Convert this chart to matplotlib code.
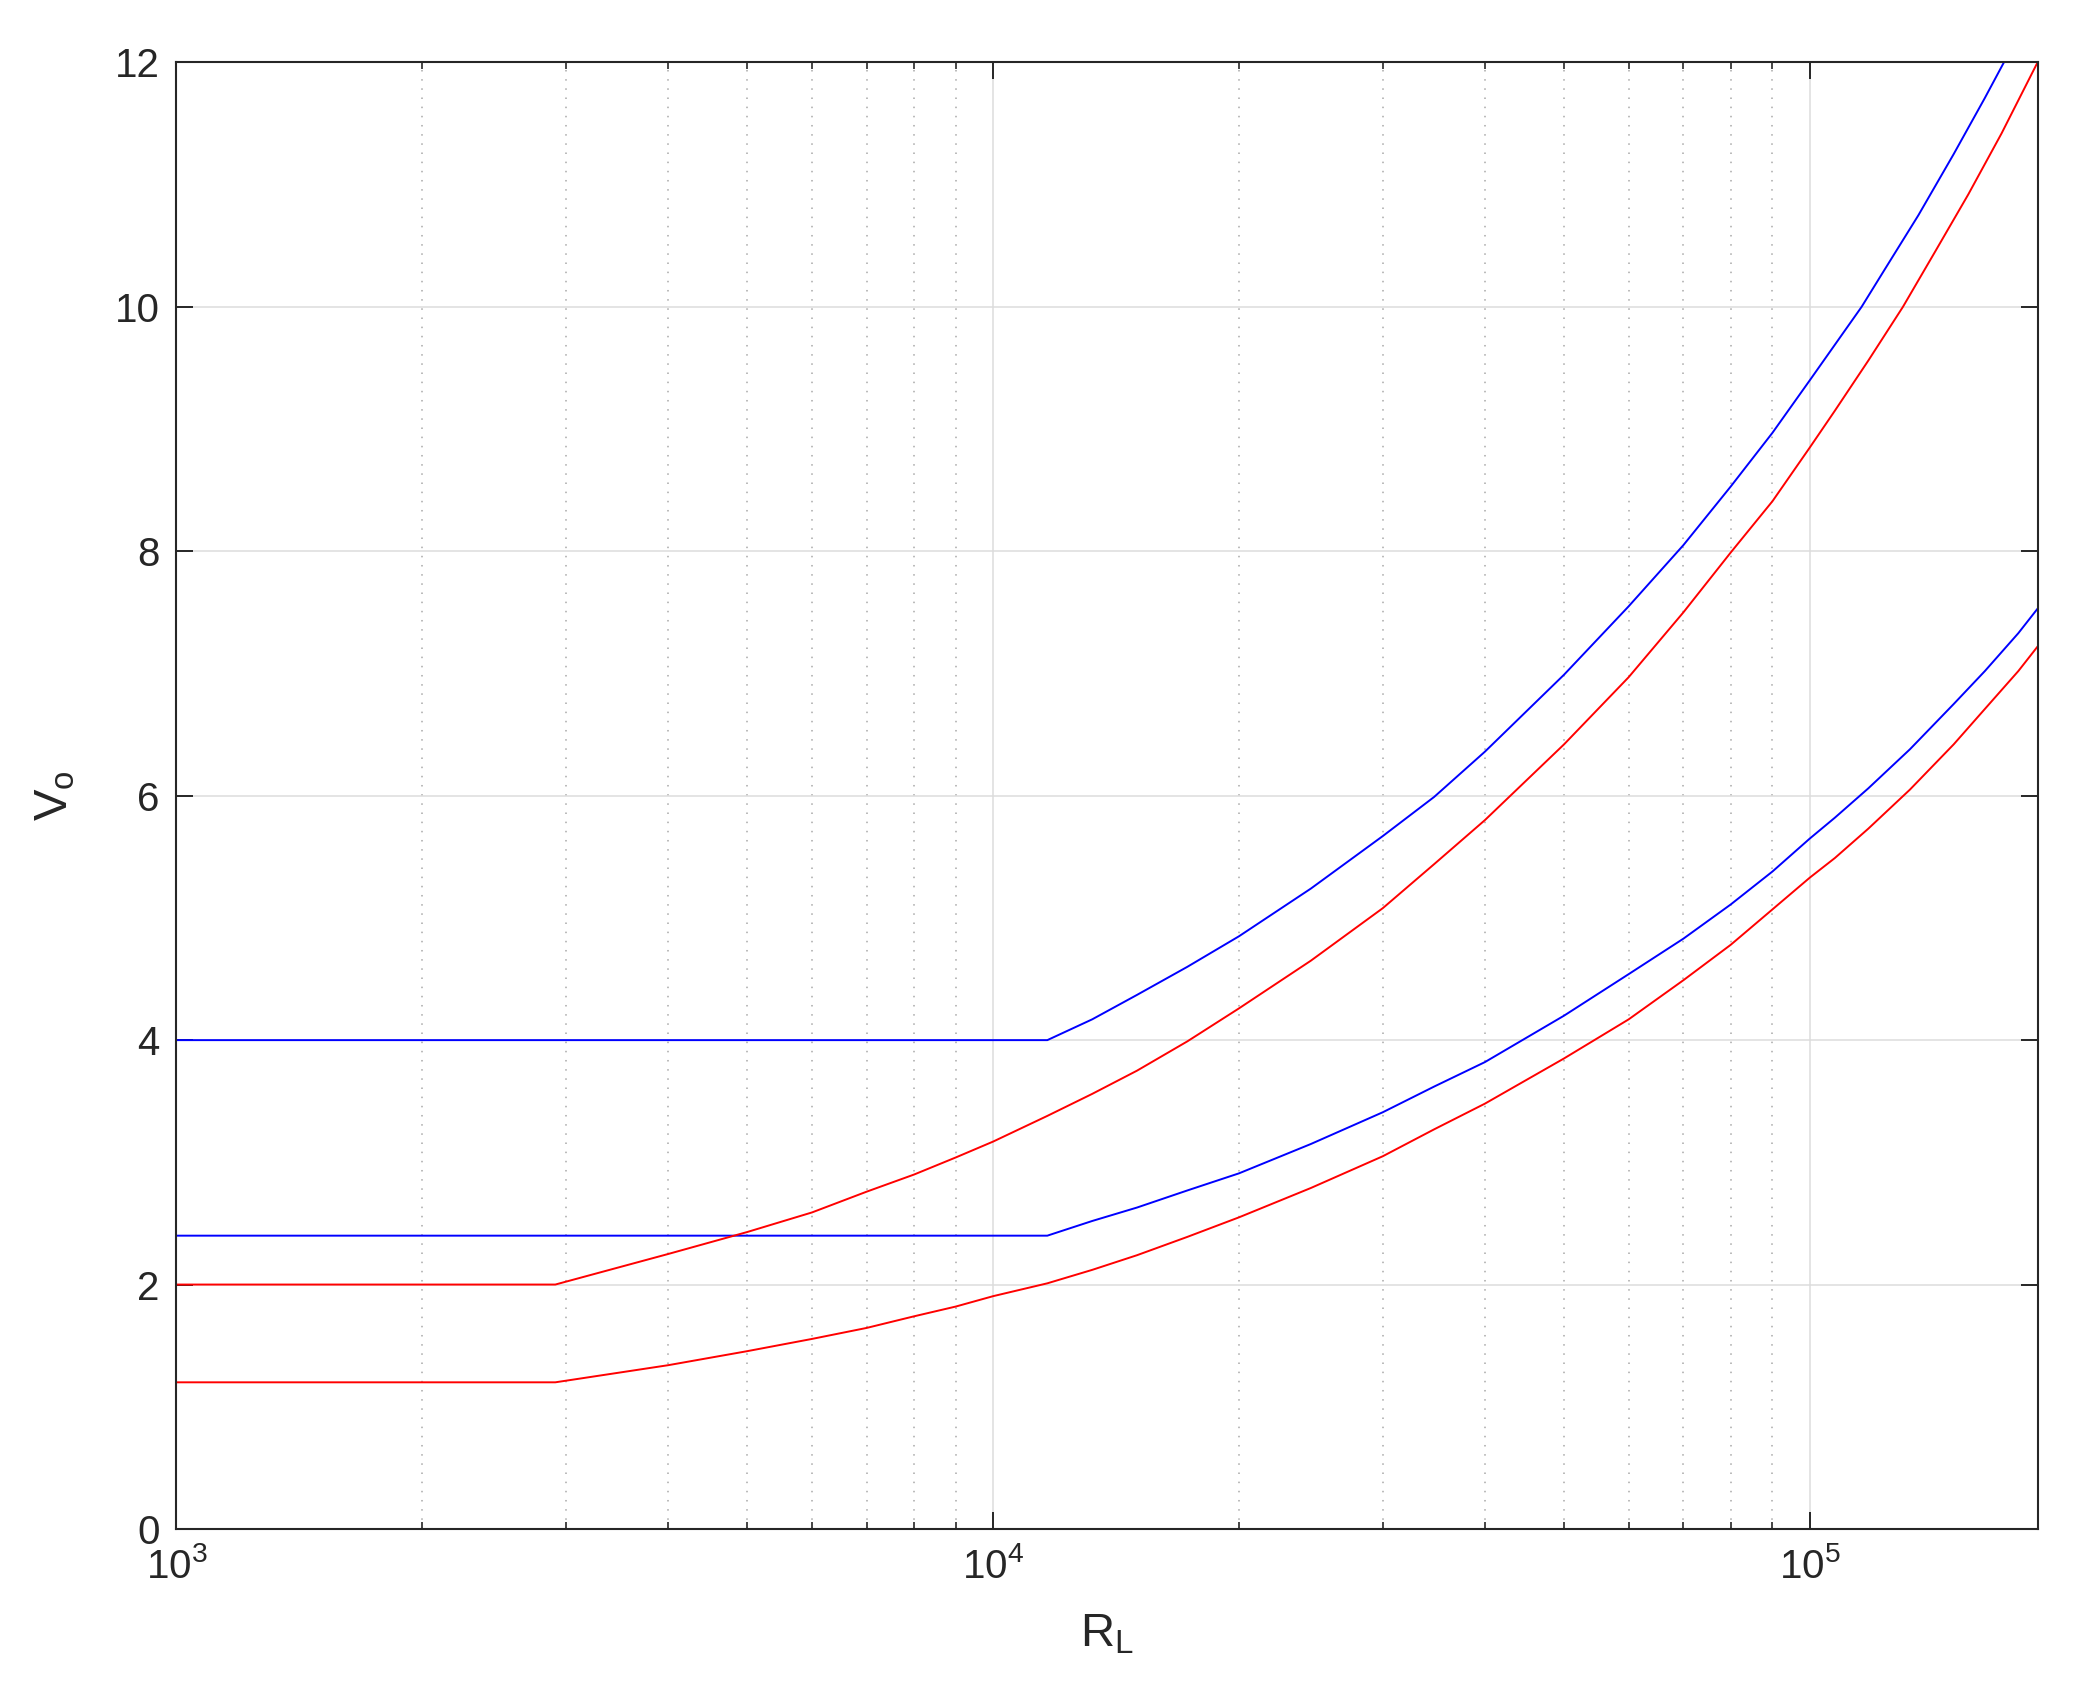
import matplotlib
matplotlib.use("Agg")
import matplotlib.pyplot as plt
from matplotlib.ticker import FixedLocator, LogLocator, NullLocator

# values, one pair of lists per curve
rl_blue_hi = [1e3, 1.165e4, 1.322e4, 1.5e4, 1.729e4, 2e4, 2.449e4, 3e4,
              3.467e4, 4e4, 5e4, 6e4, 7e4, 8e4, 9e4, 1e5, 1.073e5, 1.157e5,
              1.236e5, 1.358e5, 1.5e5, 1.638e5, 1.728e5]
vo_blue_hi = [4.0, 4.0, 4.17, 4.37, 4.60, 4.85, 5.24, 5.67,
              5.99, 6.36, 6.99, 7.55, 8.05, 8.53, 8.97, 9.40, 9.69, 10.0,
              10.31, 10.75, 11.25, 11.71, 12.0]

rl_blue_lo = [1e3, 1.165e4, 1.322e4, 1.5e4, 1.729e4, 2e4, 2.449e4, 3e4,
              3.467e4, 4e4, 5e4, 6e4, 7e4, 8e4, 9e4, 1e5, 1.073e5, 1.179e5,
              1.326e5, 1.5e5, 1.638e5, 1.8e5, 1.9e5]
vo_blue_lo = [2.4, 2.4, 2.52, 2.63, 2.77, 2.91, 3.15, 3.41,
              3.62, 3.82, 4.20, 4.54, 4.83, 5.11, 5.38, 5.65, 5.82, 6.06,
              6.38, 6.75, 7.02, 7.33, 7.53]

rl_red_hi = [1e3, 2.91e3, 4e3, 5e3, 6e3, 7e3, 8e3, 9e3, 1e4, 1.165e4,
             1.322e4, 1.5e4, 1.729e4, 2e4, 2.449e4, 3e4, 3.467e4, 4e4, 5e4,
             6e4, 7e4, 8e4, 9e4, 1e5, 1.073e5, 1.179e5, 1.3e5, 1.423e5,
             1.563e5, 1.717e5, 1.9e5]
vo_red_hi = [2.0, 2.0, 2.25, 2.43, 2.59, 2.76, 2.90, 3.04, 3.17, 3.38,
             3.56, 3.75, 3.99, 4.26, 4.65, 5.08, 5.44, 5.80, 6.42,
             6.97, 7.50, 7.99, 8.41, 8.85, 9.15, 9.56, 10.0, 10.45,
             10.92, 11.42, 12.0]

rl_red_lo = [1e3, 2.91e3, 4e3, 5e3, 6e3, 7e3, 8e3, 9e3, 1e4, 1.165e4,
             1.322e4, 1.5e4, 1.729e4, 2e4, 2.449e4, 3e4, 3.467e4, 4e4, 5e4,
             6e4, 7e4, 8e4, 9e4, 1e5, 1.073e5, 1.179e5, 1.326e5, 1.5e5,
             1.638e5, 1.8e5, 1.9e5]
vo_red_lo = [1.2, 1.2, 1.34, 1.455, 1.555, 1.645, 1.74, 1.82, 1.905, 2.01,
             2.12, 2.24, 2.39, 2.55, 2.79, 3.05, 3.27, 3.48, 3.85,
             4.17, 4.49, 4.78, 5.07, 5.33, 5.49, 5.73, 6.05, 6.42,
             6.71, 7.02, 7.22]

y_ticks = [0, 2, 4, 6, 8, 10, 12]

plt.rcParams["font.family"] = ["Liberation Sans", "DejaVu Sans"]
plt.rcParams["mathtext.fontset"] = "custom"
plt.rcParams["mathtext.rm"] = "Liberation Sans"

fig = plt.figure(figsize=(20.81, 17.07), dpi=100)
ax = fig.add_axes([0.0848, 0.1043, 0.9791 - 0.0848, 0.9634 - 0.1043])

lw = 1.4
ax.plot(rl_blue_hi, vo_blue_hi, color="#0000ff", lw=lw)
ax.plot(rl_blue_lo, vo_blue_lo, color="#0000ff", lw=lw)
ax.plot(rl_red_hi, vo_red_hi, color="#ff0000", lw=lw)
ax.plot(rl_red_lo, vo_red_lo, color="#ff0000", lw=lw)

ax.set_xscale("log")
ax.set_xlim(1e3, 1.9e5)
ax.set_ylim(0, 12)
ax.yaxis.set_major_locator(FixedLocator(y_ticks))
ax.yaxis.set_minor_locator(NullLocator())
ax.xaxis.set_major_locator(LogLocator(base=10))
ax.xaxis.set_minor_locator(LogLocator(base=10, subs=range(2, 10)))

ax.set_axisbelow(True)
ax.grid(which="major", color="#dcdcdc", lw=1.1, ls="-")
ax.grid(which="minor", axis="x", color="#a8a8a8", lw=1.1, ls=(0, (1, 5)))

ax.tick_params(which="both", direction="in", top=True, right=True,
               color="#262626", labelcolor="#262626", labelsize=29)
ax.tick_params(which="major", length=12, width=1.4)
ax.tick_params(which="minor", length=5, width=1.2)
ax.tick_params(axis="x", which="major", pad=13)
ax.tick_params(axis="y", which="major", pad=12)
for s in ax.spines.values():
    s.set_color("#262626")
    s.set_linewidth(1.5)

ax.set_xlabel(r"$\mathregular{R_L}$", fontsize=34, color="#262626", labelpad=19)
ax.set_ylabel(r"$\mathregular{V_o}$", fontsize=34, color="#262626", labelpad=27)

fig.savefig("out.png", dpi=100, facecolor="white")
